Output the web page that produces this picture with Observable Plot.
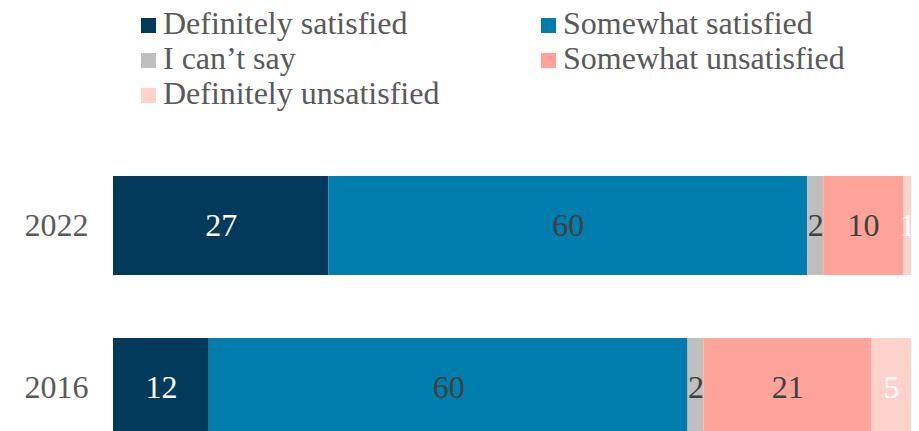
<!DOCTYPE html>
<html><head><meta charset="utf-8">
<script src="https://cdn.jsdelivr.net/npm/d3@7"></script>
<script src="https://cdn.jsdelivr.net/npm/@observablehq/plot@0.6"></script>
<style>
body{margin:0;background:#fff;font-family:"Liberation Serif",serif;overflow:hidden}
#legend{position:relative;height:120px;width:919px;}
.sw{position:absolute;width:15px;height:15px}
.lt{position:absolute;font-size:32px;line-height:1;color:#595959;white-space:nowrap}
</style></head><body>
<div id="legend"></div><div id="chart"></div>
<script>
const years = ["2022", "2016"];
const categories = ["Definitely satisfied", "Somewhat satisfied", "I can\u2019t say", "Somewhat unsatisfied", "Definitely unsatisfied"];
const values2022 = [27, 60, 2, 10, 1];
const values2016 = [12, 60, 2, 21, 5];
const colors = ["#023a5c", "#007dad", "#bfbfbf", "#fea399", "#ffd3cc"];
const labelColors = ["#ffffff", "#404040", "#404040", "#404040", "#ffffff"];

const data = [];
years.forEach((y, i) => {
  const vals = i === 0 ? values2022 : values2016;
  categories.forEach((c, j) => data.push({year: y, cat: c, value: vals[j]}));
});

// Legend (two columns)
const legend = document.getElementById("legend");
const colX = [141, 541];
const rowTop = [18, 53, 88];
categories.forEach((c, j) => {
  const col = j % 2, row = Math.floor(j / 2);
  const sw = document.createElement("div");
  sw.className = "sw";
  sw.style.left = colX[col] + "px";
  sw.style.top = rowTop[row] + "px";
  sw.style.background = colors[j];
  legend.appendChild(sw);
  const t = document.createElement("div");
  t.className = "lt";
  t.textContent = c;
  t.style.left = (colX[col] + 22) + "px";
  t.style.top = (rowTop[row] - 11) + "px";
  legend.appendChild(t);
});

const colorMap = new Map(categories.map((c, j) => [c, labelColors[j]]));

const chart = Plot.plot({
  width: 919,
  height: 343,
  marginLeft: 113,
  marginRight: 8,
  marginTop: 39,
  marginBottom: 10,
  style: {fontFamily: "'Liberation Serif', serif", fontSize: "32px", background: "#fff"},
  x: {domain: [0, 100], axis: null},
  y: {domain: years, paddingInner: 0.39, paddingOuter: 0.1, label: null, tickSize: 0, tickPadding: 25},
  color: {domain: categories, range: colors},
  marks: [
    Plot.barX(data, Plot.stackX({x: "value", y: "year", z: "cat", order: categories, fill: "cat"})),
    Plot.text(data, Plot.stackX({x: "value", y: "year", z: "cat", order: categories, text: d => String(d.value),
      fill: d => colorMap.get(d.cat), fontSize: 32})),
    Plot.axisY({tickSize: 0, tickPadding: 25, fontSize: 32, color: "#595959", label: null})
  ]
});
document.getElementById("chart").appendChild(chart);
</script>
</body></html>
